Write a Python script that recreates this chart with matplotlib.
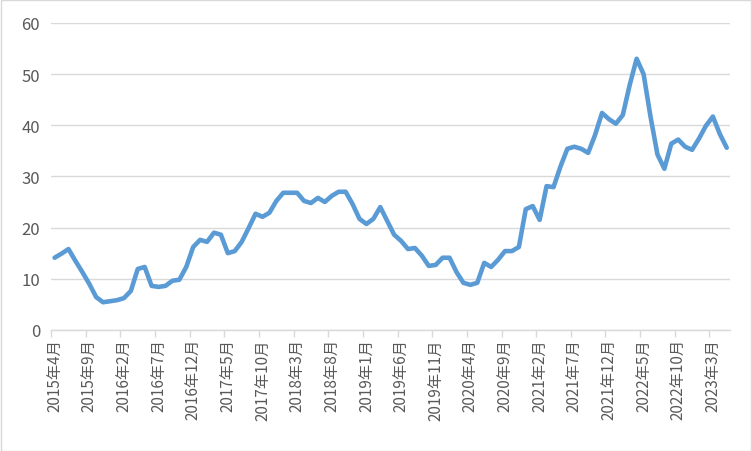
import matplotlib
matplotlib.use("Agg")
import matplotlib.pyplot as plt
from matplotlib.patches import Rectangle
import numpy as np

plt.rcParams['font.family'] = ['Noto Sans CJK SC', 'DejaVu Sans']

# 月度数据: 2015年4月 - 2023年5月
start_year, start_month = 2015, 4
values = [
    14.1, 14.9, 15.8, 13.5, 11.3, 9.0, 6.4, 5.4, 5.6, 5.8,
    6.2, 7.6, 11.9, 12.3, 8.6, 8.4, 8.6, 9.6, 9.8, 12.3,
    16.2, 17.6, 17.2, 19.0, 18.6, 15.0, 15.4, 17.2, 19.9, 22.7,
    22.1, 22.9, 25.2, 26.8, 26.8, 26.8, 25.2, 24.8, 25.8, 25.0,
    26.2, 27.0, 27.0, 24.6, 21.7, 20.7, 21.7, 24.0, 21.3, 18.6,
    17.4, 15.8, 16.0, 14.5, 12.5, 12.7, 14.1, 14.1, 11.3, 9.2,
    8.8, 9.2, 13.1, 12.3, 13.7, 15.4, 15.4, 16.2, 23.6, 24.2,
    21.5, 28.1, 27.9, 31.9, 35.4, 35.8, 35.4, 34.6, 38.1, 42.4,
    41.2, 40.3, 42.0, 47.9, 53.0, 50.0, 41.7, 34.3, 31.5, 36.4,
    37.2, 35.8, 35.2, 37.4, 39.9, 41.7, 38.3, 35.6,
]

labels = []
for k in range(len(values)):
    m = start_month - 1 + k
    labels.append(f"{start_year + m // 12}年{m % 12 + 1}月")

x = np.arange(len(values))
grey = "#595959"

fig = plt.figure(figsize=(7.52, 4.52), dpi=100)
ax = fig.add_axes([0.068, 0.268, 0.903, 0.679])
fig.patches.append(Rectangle((0.0007, 0.001), 0.9986, 0.997, transform=fig.transFigure,
                             fill=False, edgecolor="#D9D9D9", linewidth=1))

ax.plot(x, values, color="#5B9BD5", linewidth=3.3, solid_joinstyle="round", solid_capstyle="round")

ax.set_xlim(-0.5, len(values) - 0.5)
ax.set_ylim(0, 60)
ax.set_yticks(range(0, 61, 10))
ax.yaxis.grid(True, color="#D9D9D9", linewidth=1)
ax.set_axisbelow(True)

ax.set_xticks(x[::5])
ax.set_xticklabels(labels[::5], rotation=90, fontsize=11, color=grey)
ax.set_xticks(np.arange(-0.5, len(values) - 1, 5), minor=True)
ax.tick_params(axis="x", which="major", length=0, pad=6)
ax.tick_params(axis="x", which="minor", length=5, color="#D9D9D9", width=1)
ax.tick_params(axis="y", length=0, labelsize=12, colors=grey, pad=8)

for s in ["top", "right", "left"]:
    ax.spines[s].set_visible(False)
ax.spines["bottom"].set_color("#D9D9D9")
ax.spines["bottom"].set_linewidth(1)

fig.savefig("out.png", dpi=100)
